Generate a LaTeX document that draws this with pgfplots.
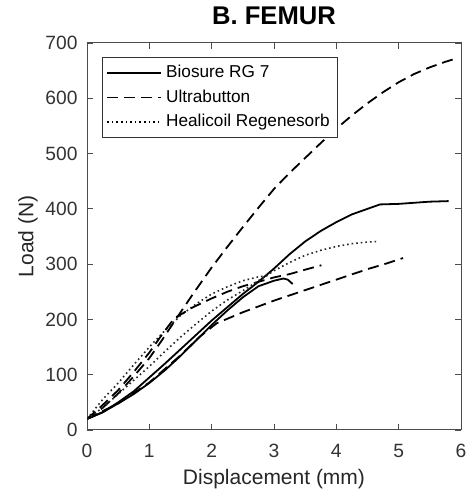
\documentclass[border=0pt]{standalone}
\usepackage{pgfplots}
\pgfplotsset{compat=1.18}
\usepackage{fontspec}
\setmainfont{Liberation Sans}

\begin{document}
\begin{tikzpicture}
\begin{axis}[
    scale only axis,
    width=187pt,
    height=193.5pt,
    xmin=0, xmax=6,
    ymin=0, ymax=700,
    xtick={0,1,...,6},
    ytick={0,100,...,700},
    tick align=inside,
    tick pos=both,
    major tick length=3pt,
    axis line style={black!70, line width=0.5pt},
    every tick/.style={black!70},
    /pgf/number format/assume math mode=true,
    ticklabel style={font=\fontsize{9.6}{11}\selectfont, text=black!80},
    xticklabel style={yshift=-3.5pt},
    yticklabel style={xshift=-1.2pt},
    xlabel={Displacement (mm)},
    ylabel={Load (N)},
    label style={font=\fontsize{10.5}{12}\selectfont, text=black!85},
    xlabel style={yshift=1pt},
    ylabel style={yshift=-3pt},
    title={\textbf{B. FEMUR}},
    title style={font=\fontsize{12.8}{14}\selectfont, yshift=-0.5pt},
    legend style={at={(0.04,0.964)}, anchor=north west, font=\fontsize{8.6}{10}\selectfont,
        draw=black!80, row sep=0.5pt, inner sep=2pt},
    legend cell align=left,
    legend image code/.code={\draw[black, line width=0.9pt, #1] (0pt,0pt) -- (27pt,0pt);},
    every axis plot/.append style={black, line width=0.9pt},
]

% Biosure RG 7 (solid)
\addplot[solid] coordinates {
    (0,20) (0.25,32) (0.5,50) (0.75,70) (1,95) (1.25,120) (1.5,146) (1.75,172)
    (2,198) (2.25,222) (2.5,246) (2.75,268) (3,292) (3.25,318) (3.5,341)
    (3.75,360) (4,376) (4.25,390) (4.5,400) (4.7,408) (5,409) (5.25,411)
    (5.5,413) (5.8,414)
};
\addlegendentry{Biosure RG 7}

% Ultrabutton (dashed)
\addplot[dash pattern=on 5.5pt off 3pt] coordinates {
    (0,20) (0.25,40) (0.5,66) (0.75,97) (1,130) (1.2,162) (1.4,196)
    (1.7,246) (2,294) (2.25,331) (2.5,367) (2.75,402) (3,436) (3.25,465)
    (3.5,492) (3.75,519) (4,545) (4.25,569) (4.5,591) (4.75,611) (5,629)
    (5.25,644) (5.5,656) (5.75,666) (5.95,673)
};
\addlegendentry{Ultrabutton}

% Healicoil Regenesorb (dotted)
\addplot[black!85, line width=0.8pt, dash pattern=on 0.8pt off 1.5pt] coordinates {
    (0,20) (0.25,55) (0.5,85) (0.75,118) (1,150) (1.25,180) (1.5,207)
    (1.75,228) (2,246) (2.25,259) (2.5,270) (2.75,277) (2.9,279)
};
\addlegendentry{Healicoil Regenesorb}

% second Biosure specimen
\addplot[solid, forget plot] coordinates {
    (0,20) (0.25,32) (0.5,48) (0.75,65) (1,85) (1.25,108) (1.5,134)
    (1.75,162) (2,190) (2.25,216) (2.5,240) (2.75,260) (3,270) (3.15,274)
    (3.22,272) (3.3,264)
};

% second Ultrabutton specimen
\addplot[dash pattern=on 5.5pt off 3pt, forget plot] coordinates {
    (0,20) (0.25,45) (0.5,72) (0.75,105) (1,140) (1.2,172) (1.4,202)
    (1.7,222) (2,238) (2.25,250) (2.5,260) (2.75,268) (3,276) (3.25,282)
    (3.5,290) (3.76,298)
};

% third Ultrabutton specimen
\addplot[dash pattern=on 5.5pt off 3pt, forget plot] coordinates {
    (0,20) (0.5,48) (1,86) (1.5,135) (1.8,168) (2.08,193) (2.5,213)
    (3,234) (3.5,253) (4,272) (4.5,291) (4.8,301) (5.07,311)
};

% second Healicoil specimen
\addplot[black!85, line width=0.8pt, dash pattern=on 0.8pt off 1.5pt, forget plot] coordinates {
    (0,20) (0.25,40) (0.5,65) (0.75,90) (1,115) (1.25,142) (1.5,168)
    (1.75,192) (2,215) (2.25,235) (2.5,252) (2.75,270) (3,288) (3.25,303)
    (3.5,316) (3.75,325) (4,332) (4.25,337) (4.5,340) (4.66,341)
};

\end{axis}
% crop the page to the reference's margins round the axis box
\pgfresetboundingbox
\path ([xshift=-43.5pt, yshift=-30.5pt]current axis.south west)
    rectangle ([xshift=4pt, yshift=21.5pt]current axis.north east);
\end{tikzpicture}
\end{document}
